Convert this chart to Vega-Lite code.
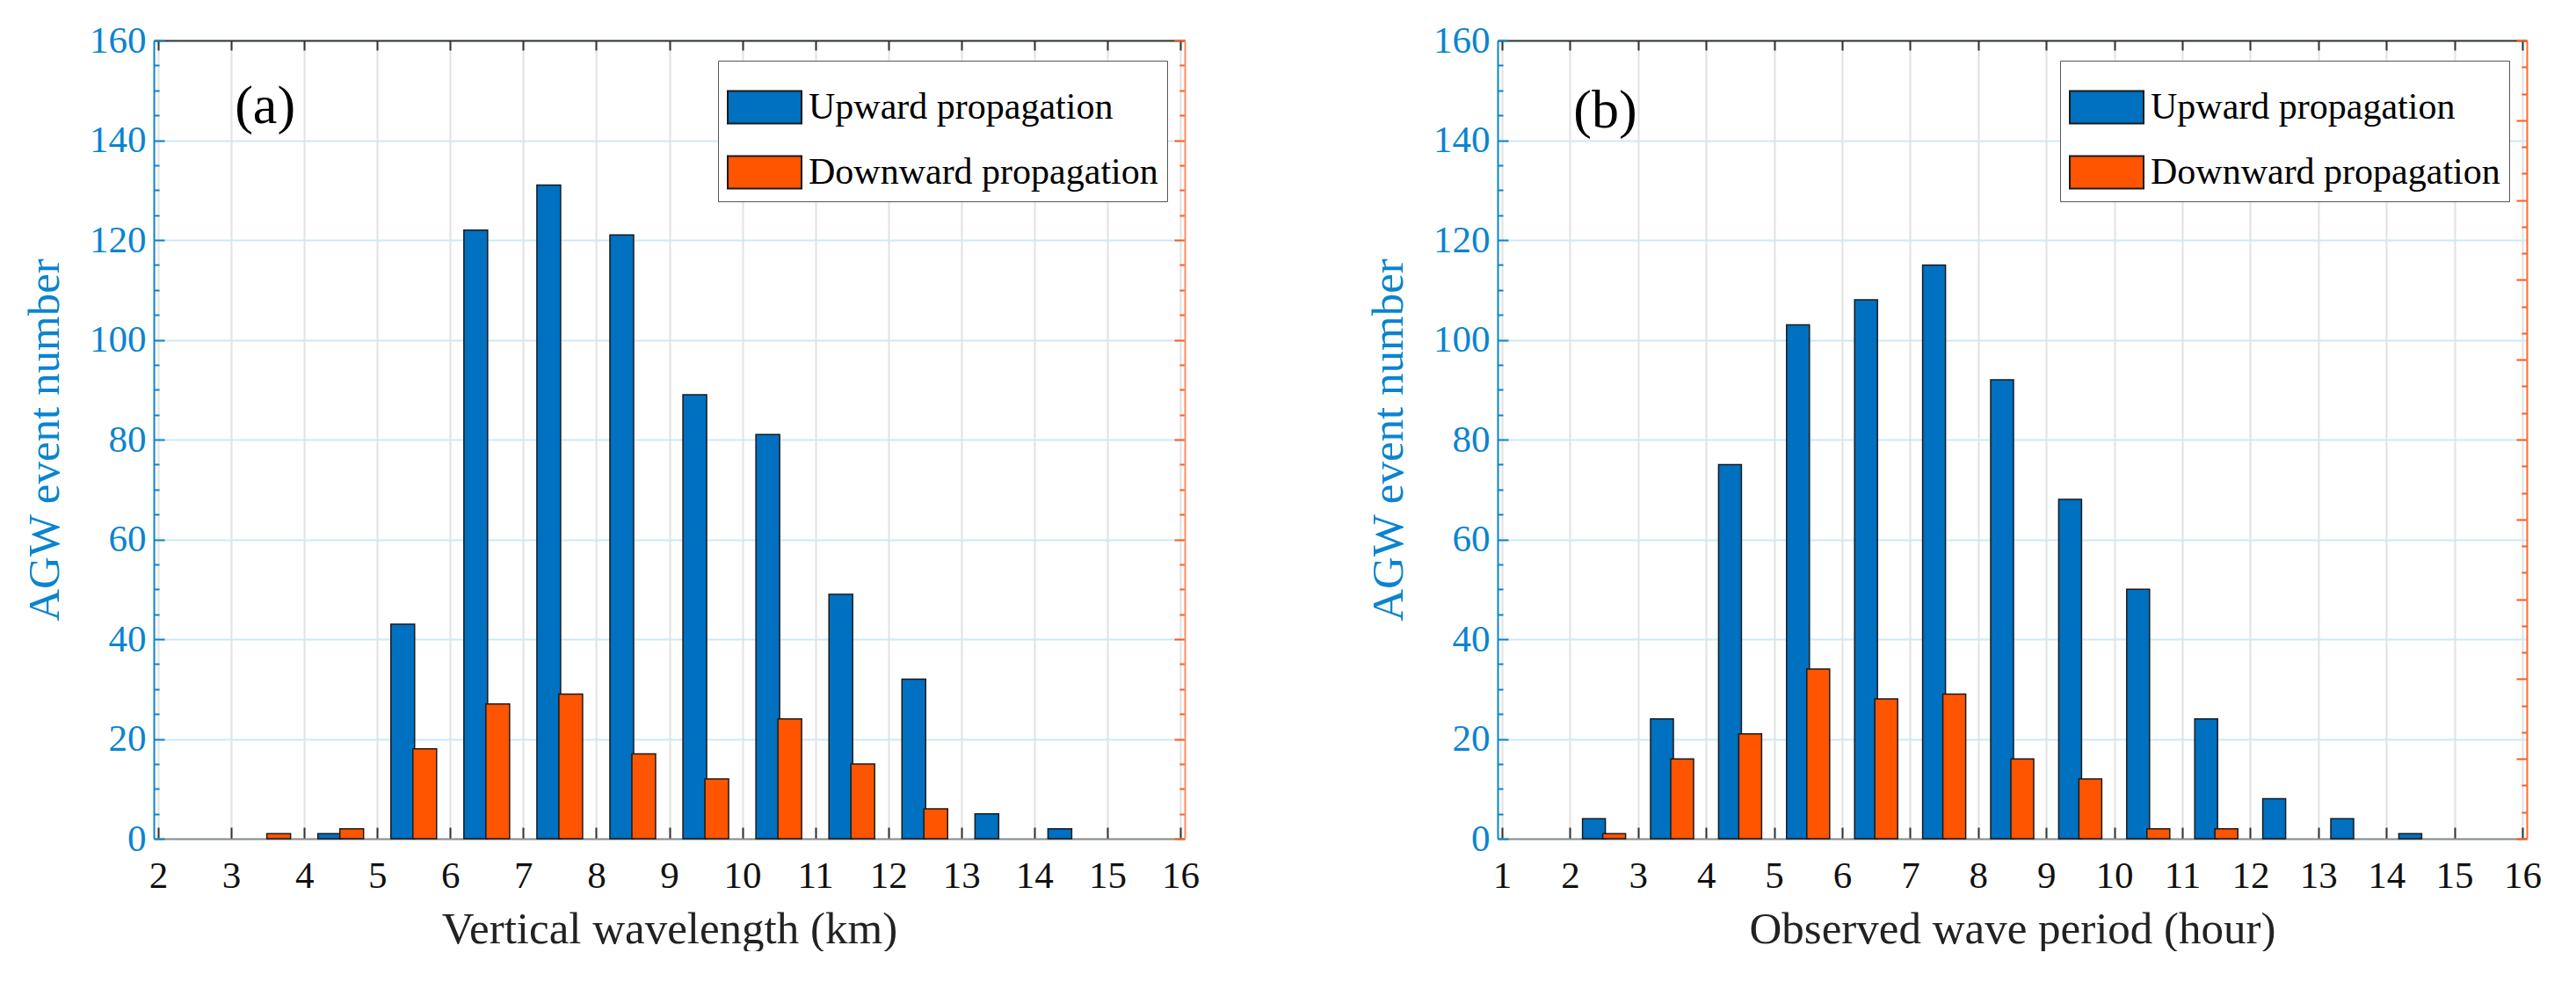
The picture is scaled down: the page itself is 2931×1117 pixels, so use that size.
{
  "$schema": "https://vega.github.io/schema/vega-lite/v6.json",
  "description": "AGW event number histograms: (a) vertical wavelength, (b) observed wave period",
  "padding": {"left": 25, "top": 25, "right": 0, "bottom": 0},
  "background": "white",
  "config": {
    "font": "Liberation Serif",
    "axis": {"labelFont": "Liberation Serif", "titleFont": "Liberation Serif"},
    "legend": {"labelFont": "Liberation Serif", "titleFont": "Liberation Serif"},
    "text": {"font": "Liberation Serif"},
    "view": {"stroke": null},
    "concat": {"spacing": 189}
  },
  "datasets": {
    "a": [
      {"x": 2.5, "dir": "Upward propagation", "n": 0},
      {"x": 3.5, "dir": "Upward propagation", "n": 0},
      {"x": 4.5, "dir": "Upward propagation", "n": 1},
      {"x": 5.5, "dir": "Upward propagation", "n": 43},
      {"x": 6.5, "dir": "Upward propagation", "n": 122},
      {"x": 7.5, "dir": "Upward propagation", "n": 131},
      {"x": 8.5, "dir": "Upward propagation", "n": 121},
      {"x": 9.5, "dir": "Upward propagation", "n": 89},
      {"x": 10.5, "dir": "Upward propagation", "n": 81},
      {"x": 11.5, "dir": "Upward propagation", "n": 49},
      {"x": 12.5, "dir": "Upward propagation", "n": 32},
      {"x": 13.5, "dir": "Upward propagation", "n": 5},
      {"x": 14.5, "dir": "Upward propagation", "n": 2},
      {"x": 15.5, "dir": "Upward propagation", "n": 0},
      {"x": 2.5, "dir": "Downward propagation", "n": 0},
      {"x": 3.5, "dir": "Downward propagation", "n": 1},
      {"x": 4.5, "dir": "Downward propagation", "n": 2},
      {"x": 5.5, "dir": "Downward propagation", "n": 18},
      {"x": 6.5, "dir": "Downward propagation", "n": 27},
      {"x": 7.5, "dir": "Downward propagation", "n": 29},
      {"x": 8.5, "dir": "Downward propagation", "n": 17},
      {"x": 9.5, "dir": "Downward propagation", "n": 12},
      {"x": 10.5, "dir": "Downward propagation", "n": 24},
      {"x": 11.5, "dir": "Downward propagation", "n": 15},
      {"x": 12.5, "dir": "Downward propagation", "n": 6},
      {"x": 13.5, "dir": "Downward propagation", "n": 0},
      {"x": 14.5, "dir": "Downward propagation", "n": 0},
      {"x": 15.5, "dir": "Downward propagation", "n": 0}
    ],
    "b": [
      {"x": 1.5, "dir": "Upward propagation", "n": 0},
      {"x": 2.5, "dir": "Upward propagation", "n": 4},
      {"x": 3.5, "dir": "Upward propagation", "n": 24},
      {"x": 4.5, "dir": "Upward propagation", "n": 75},
      {"x": 5.5, "dir": "Upward propagation", "n": 103},
      {"x": 6.5, "dir": "Upward propagation", "n": 108},
      {"x": 7.5, "dir": "Upward propagation", "n": 115},
      {"x": 8.5, "dir": "Upward propagation", "n": 92},
      {"x": 9.5, "dir": "Upward propagation", "n": 68},
      {"x": 10.5, "dir": "Upward propagation", "n": 50},
      {"x": 11.5, "dir": "Upward propagation", "n": 24},
      {"x": 12.5, "dir": "Upward propagation", "n": 8},
      {"x": 13.5, "dir": "Upward propagation", "n": 4},
      {"x": 14.5, "dir": "Upward propagation", "n": 1},
      {"x": 15.5, "dir": "Upward propagation", "n": 0},
      {"x": 1.5, "dir": "Downward propagation", "n": 0},
      {"x": 2.5, "dir": "Downward propagation", "n": 1},
      {"x": 3.5, "dir": "Downward propagation", "n": 16},
      {"x": 4.5, "dir": "Downward propagation", "n": 21},
      {"x": 5.5, "dir": "Downward propagation", "n": 34},
      {"x": 6.5, "dir": "Downward propagation", "n": 28},
      {"x": 7.5, "dir": "Downward propagation", "n": 29},
      {"x": 8.5, "dir": "Downward propagation", "n": 16},
      {"x": 9.5, "dir": "Downward propagation", "n": 12},
      {"x": 10.5, "dir": "Downward propagation", "n": 2},
      {"x": 11.5, "dir": "Downward propagation", "n": 2},
      {"x": 12.5, "dir": "Downward propagation", "n": 0},
      {"x": 13.5, "dir": "Downward propagation", "n": 0},
      {"x": 14.5, "dir": "Downward propagation", "n": 0},
      {"x": 15.5, "dir": "Downward propagation", "n": 0}
    ]
  },
  "resolve": {"scale": {"color": "independent"}, "legend": {"color": "independent"}},
  "hconcat": [
    {
      "width": 1173,
      "height": 908,
      "data": {"name": "a"},
      "layer": [
        {
          "transform": [{"filter": "datum.dir === 'Upward propagation' && datum.n > 0"}],
          "mark": {"type": "bar", "width": 27, "xOffset": -12.5, "stroke": "#1a1a1a", "strokeWidth": 1.5},
          "encoding": {
            "x": {
              "field": "x", "type": "quantitative",
              "scale": {"domain": [2, 16], "nice": false, "zero": false},
              "axis": {
                "orient": "bottom", "values": [2, 3, 4, 5, 6, 7, 8, 9, 10, 11, 12, 13, 14, 15, 16], "format": "d",
                "labelFlush": false, "labelFont": "Liberation Serif", "labelFontSize": 43, "labelColor": "#111", "labelPadding": 34,
                "tickColor": "#333", "tickWidth": 2, "tickSize": -13,
                "domainColor": "#8c8c8c", "domainWidth": 2,
                "grid": true, "gridColor": "#e2e2e2", "gridWidth": 2,
                "title": "Vertical wavelength (km)", "titleFont": "Liberation Serif", "titleFontSize": 51, "titleColor": "#222",
                "titleFontWeight": "normal", "titlePadding": 14
              }
            },
            "y": {
              "field": "n", "type": "quantitative",
              "scale": {"domain": [0, 160], "nice": false},
              "axis": {
                "orient": "left",
                "values": [0, 5, 10, 15, 20, 25, 30, 35, 40, 45, 50, 55, 60, 65, 70, 75, 80, 85, 90, 95, 100, 105, 110, 115, 120, 125, 130, 135, 140, 145, 150, 155, 160],
                "labelExpr": "datum.value % 20 === 0 ? datum.label : ''",
                "labelOverlap": false, "labelFont": "Liberation Serif", "labelFontSize": 43, "labelColor": "#0B84CF", "labelPadding": 21,
                "tickColor": "#0B84CF", "tickWidth": 2,
                "tickSize": {"condition": {"test": "datum.value % 20 === 0", "value": -12}, "value": -6},
                "domainColor": "#0B84CF", "domainWidth": 2,
                "grid": true, "gridColor": "#cde9f7", "gridWidth": 2,
                "gridOpacity": {"condition": {"test": "datum.value % 20 === 0", "value": 1}, "value": 0},
                "title": "AGW event number", "titleFont": "Liberation Serif", "titleFontSize": 51, "titleColor": "#0B84CF",
                "titleFontWeight": "normal", "titlePadding": 24
              }
            },
            "color": {
              "field": "dir", "type": "nominal",
              "scale": {"domain": ["Upward propagation", "Downward propagation"], "range": ["#0070C0", "#FF5400"]},
              "legend": {
                "title": null, "orient": "none", "legendX": 642, "legendY": 23, "direction": "vertical",
                "fillColor": "white", "strokeColor": "#555", "padding": 10,
                "symbolType": "M-1,-0.44L1,-0.44L1,0.44L-1,0.44Z", "symbolSize": 7056,
                "symbolStrokeColor": "#222", "symbolStrokeWidth": 2, "symbolOpacity": 1,
                "labelFont": "Liberation Serif", "labelFontSize": 42, "labelColor": "black", "labelOffset": 7, "rowPadding": 8, "labelLimit": 0
              }
            }
          }
        },
        {
          "transform": [{"filter": "datum.dir === 'Downward propagation' && datum.n > 0"}],
          "mark": {"type": "bar", "width": 27, "xOffset": 12.5, "stroke": "#1a1a1a", "strokeWidth": 1.5},
          "encoding": {
            "x": {
              "field": "x", "type": "quantitative",
              "axis": {
                "orient": "top", "values": [2, 3, 4, 5, 6, 7, 8, 9, 10, 11, 12, 13, 14, 15, 16],
                "labels": false, "title": null, "grid": false,
                "tickColor": "#333", "tickWidth": 2, "tickSize": -11,
                "domainColor": "#333", "domainWidth": 2
              }
            },
            "y": {
              "field": "n", "type": "quantitative",
              "axis": {
                "orient": "right",
                "values": [0, 5, 10, 15, 20, 25, 30, 35, 40, 45, 50, 55, 60, 65, 70, 75, 80, 85, 90, 95, 100, 105, 110, 115, 120, 125, 130, 135, 140, 145, 150, 155, 160],
                "labels": false, "title": null, "grid": false,
                "tickColor": "#FF5A1F", "tickWidth": 2,
                "tickSize": {"condition": {"test": "datum.value % 20 === 0", "value": -12}, "value": -6},
                "domainColor": "#FF8A65", "domainWidth": 2
              }
            },
            "color": {"field": "dir", "type": "nominal"}
          }
        },
        {
          "data": {"values": [{"label": "(a)"}]},
          "mark": {"type": "text", "align": "left", "baseline": "middle", "fontSize": 62, "font": "Liberation Serif", "color": "black"},
          "encoding": {
            "x": {"datum": 3.05, "type": "quantitative", "axis": null},
            "y": {"datum": 146.8, "type": "quantitative", "axis": null},
            "text": {"field": "label"}
          }
        }
      ],
      "resolve": {"axis": {"x": "independent", "y": "independent"}}
    },
    {
      "width": 1171,
      "height": 908,
      "data": {"name": "b"},
      "layer": [
        {
          "transform": [{"filter": "datum.dir === 'Upward propagation' && datum.n > 0"}],
          "mark": {"type": "bar", "width": 26, "xOffset": -11.5, "stroke": "#1a1a1a", "strokeWidth": 1.5},
          "encoding": {
            "x": {
              "field": "x", "type": "quantitative",
              "scale": {"domain": [1, 16], "nice": false, "zero": false},
              "axis": {
                "orient": "bottom", "values": [1, 2, 3, 4, 5, 6, 7, 8, 9, 10, 11, 12, 13, 14, 15, 16], "format": "d",
                "labelFlush": false, "labelFont": "Liberation Serif", "labelFontSize": 43, "labelColor": "#111", "labelPadding": 34,
                "tickColor": "#333", "tickWidth": 2, "tickSize": -13,
                "domainColor": "#8c8c8c", "domainWidth": 2,
                "grid": true, "gridColor": "#e2e2e2", "gridWidth": 2,
                "title": "Observed wave period (hour)", "titleFont": "Liberation Serif", "titleFontSize": 51, "titleColor": "#222",
                "titleFontWeight": "normal", "titlePadding": 14
              }
            },
            "y": {
              "field": "n", "type": "quantitative",
              "scale": {"domain": [0, 160], "nice": false},
              "axis": {
                "orient": "left",
                "values": [0, 5, 10, 15, 20, 25, 30, 35, 40, 45, 50, 55, 60, 65, 70, 75, 80, 85, 90, 95, 100, 105, 110, 115, 120, 125, 130, 135, 140, 145, 150, 155, 160],
                "labelExpr": "datum.value % 20 === 0 ? datum.label : ''",
                "labelOverlap": false, "labelFont": "Liberation Serif", "labelFontSize": 43, "labelColor": "#0B84CF", "labelPadding": 21,
                "tickColor": "#0B84CF", "tickWidth": 2,
                "tickSize": {"condition": {"test": "datum.value % 20 === 0", "value": -12}, "value": -6},
                "domainColor": "#0B84CF", "domainWidth": 2,
                "grid": true, "gridColor": "#cde9f7", "gridWidth": 2,
                "gridOpacity": {"condition": {"test": "datum.value % 20 === 0", "value": 1}, "value": 0},
                "title": "AGW event number", "titleFont": "Liberation Serif", "titleFontSize": 51, "titleColor": "#0B84CF",
                "titleFontWeight": "normal", "titlePadding": 24
              }
            },
            "color": {
              "field": "dir", "type": "nominal",
              "scale": {"domain": ["Upward propagation", "Downward propagation"], "range": ["#0070C0", "#FF5400"]},
              "legend": {
                "title": null, "orient": "none", "legendX": 640, "legendY": 23, "direction": "vertical",
                "fillColor": "white", "strokeColor": "#555", "padding": 10,
                "symbolType": "M-1,-0.44L1,-0.44L1,0.44L-1,0.44Z", "symbolSize": 7056,
                "symbolStrokeColor": "#222", "symbolStrokeWidth": 2, "symbolOpacity": 1,
                "labelFont": "Liberation Serif", "labelFontSize": 42, "labelColor": "black", "labelOffset": 7, "rowPadding": 8, "labelLimit": 0
              }
            }
          }
        },
        {
          "transform": [{"filter": "datum.dir === 'Downward propagation' && datum.n > 0"}],
          "mark": {"type": "bar", "width": 26, "xOffset": 11.5, "stroke": "#1a1a1a", "strokeWidth": 1.5},
          "encoding": {
            "x": {
              "field": "x", "type": "quantitative",
              "axis": {
                "orient": "top", "values": [1, 2, 3, 4, 5, 6, 7, 8, 9, 10, 11, 12, 13, 14, 15, 16],
                "labels": false, "title": null, "grid": false,
                "tickColor": "#333", "tickWidth": 2, "tickSize": -11,
                "domainColor": "#333", "domainWidth": 2
              }
            },
            "y": {
              "field": "n", "type": "quantitative",
              "axis": {
                "orient": "right",
                "values": [0, 5.3333, 10.6667, 16, 21.3333, 26.6667, 32, 37.3333, 42.6667, 48, 53.3333, 58.6667, 64, 69.3333, 74.6667, 80, 85.3333, 90.6667, 96, 101.3333, 106.6667, 112, 117.3333, 122.6667, 128, 133.3333, 138.6667, 144, 149.3333, 154.6667, 160],
                "labels": false, "title": null, "grid": false,
                "tickColor": "#FF5A1F", "tickWidth": 2,
                "tickSize": {"condition": {"test": "abs(datum.value / 16 - round(datum.value / 16)) < 0.01", "value": -12}, "value": -6},
                "domainColor": "#FF6A2A", "domainWidth": 2
              }
            },
            "color": {"field": "dir", "type": "nominal"}
          }
        },
        {
          "data": {"values": [{"label": "(b)"}]},
          "mark": {"type": "text", "align": "left", "baseline": "middle", "fontSize": 62, "font": "Liberation Serif", "color": "black"},
          "encoding": {
            "x": {"datum": 2.05, "type": "quantitative", "axis": null},
            "y": {"datum": 145.9, "type": "quantitative", "axis": null},
            "text": {"field": "label"}
          }
        }
      ],
      "resolve": {"axis": {"x": "independent", "y": "independent"}}
    }
  ]
}
